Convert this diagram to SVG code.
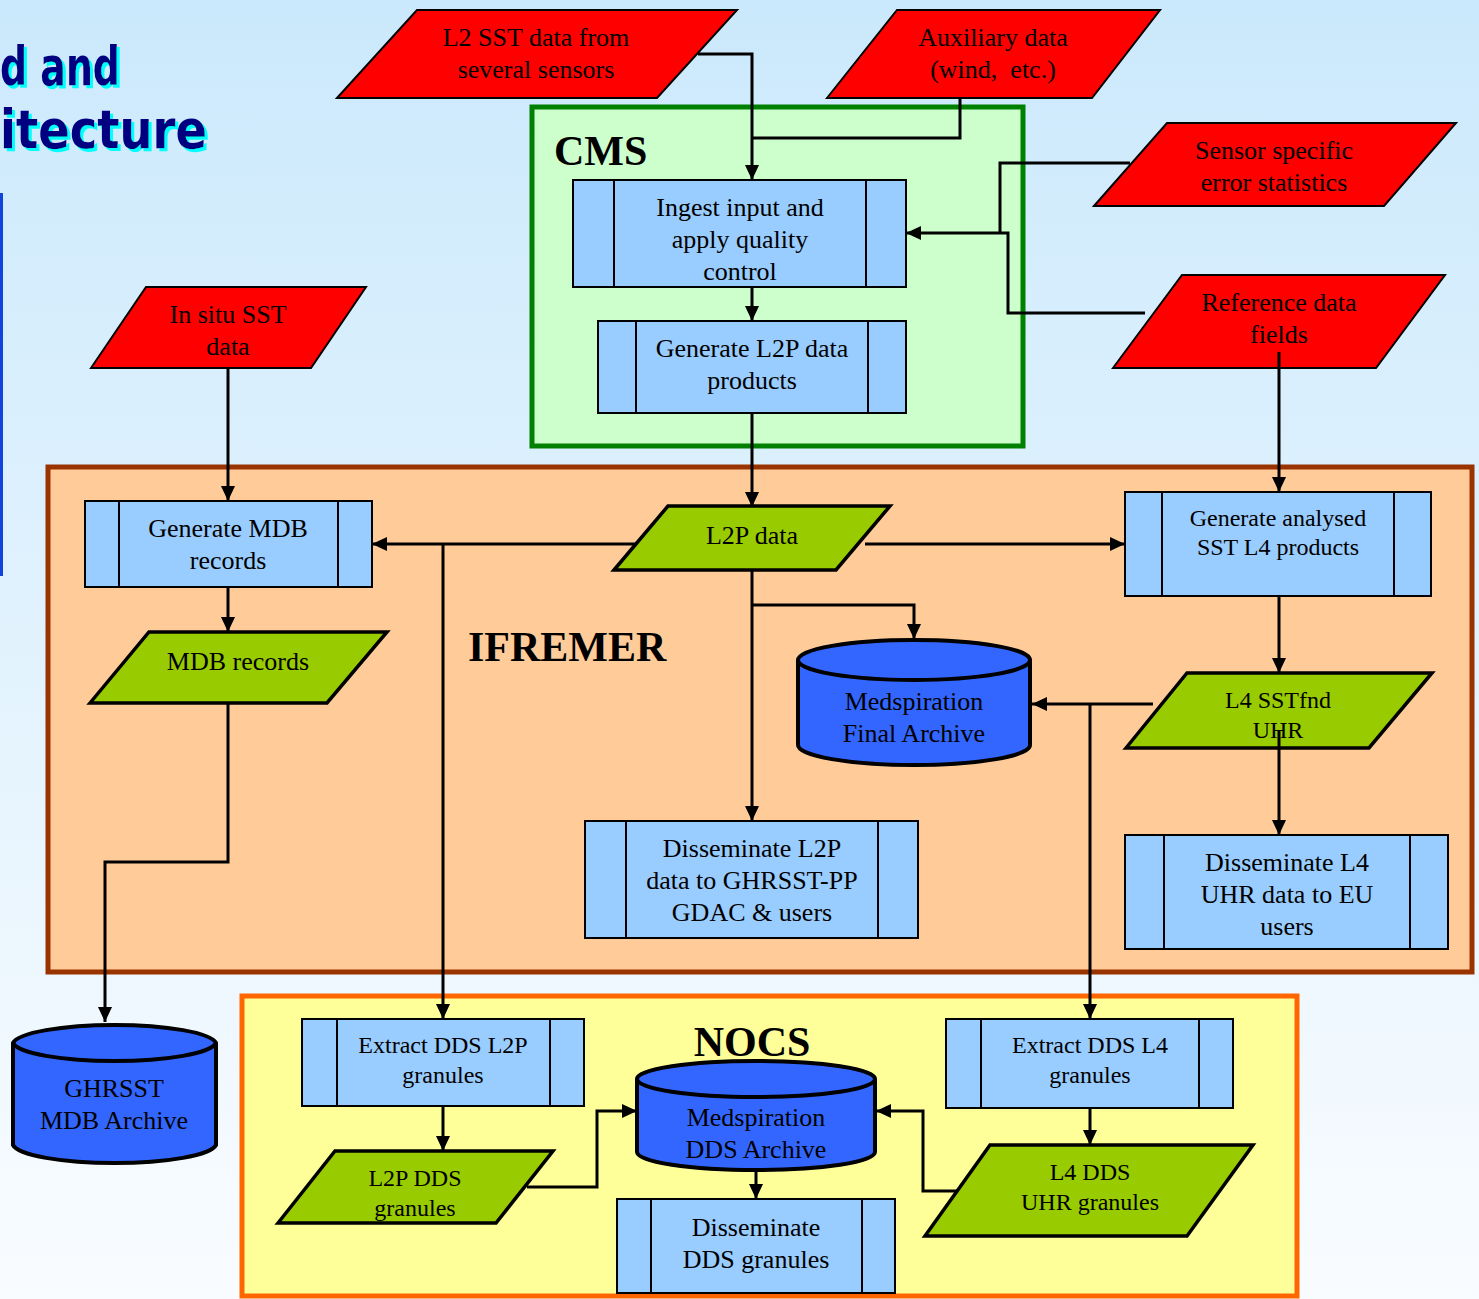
<svg xmlns="http://www.w3.org/2000/svg" width="1479" height="1299" viewBox="0 0 1479 1299">
<defs>
<linearGradient id="bg" x1="0" y1="0" x2="0" y2="1">
<stop offset="0" stop-color="#cbe9fc"/>
<stop offset="1" stop-color="#f9fcff"/>
</linearGradient>
<marker id="arr" markerUnits="userSpaceOnUse" markerWidth="16" markerHeight="16" refX="15" refY="7" orient="auto" viewBox="0 0 16 14">
<path d="M0,0 L15,7 L0,14 z" fill="#000"/>
</marker>
<filter id="sh" x="-5%" y="-20%" width="115%" height="150%">
<feFlood flood-color="#00ffff" result="f"/>
<feComposite in="f" in2="SourceAlpha" operator="in" result="c"/>
<feOffset in="c" dx="3" dy="3" result="o"/>
<feMerge><feMergeNode in="o"/><feMergeNode in="SourceGraphic"/></feMerge>
</filter>
</defs>
<style>
.t{font-family:"Liberation Serif","Times New Roman",serif;font-size:26px;fill:#000;text-anchor:middle}
.s{font-size:24px}
.h{font-family:"Liberation Serif","Times New Roman",serif;font-size:42px;font-weight:bold;fill:#000}
.red{fill:#ff0000;stroke:#000;stroke-width:2}
.grn{fill:#99cc00;stroke:#000;stroke-width:3.5}
.proc{fill:#99ccff;stroke:#000;stroke-width:2}
.pl{fill:none;stroke:#000;stroke-width:2}
.cyl{fill:#3366ff;stroke:#000;stroke-width:4}
.c{fill:none;stroke:#000;stroke-width:3}
.ttl{font-family:"DejaVu Sans",sans-serif;font-weight:bold;font-size:54px;fill:#000080}
</style>
<rect x="0" y="0" width="1479" height="1299" fill="url(#bg)"/>
<g id="title" filter="url(#sh)">
<text class="ttl" x="0" y="85" textLength="120" lengthAdjust="spacingAndGlyphs">d and</text>
<text class="ttl" x="0" y="148" textLength="207" lengthAdjust="spacingAndGlyphs">itecture</text>
</g>
<rect x="0" y="193" width="3" height="383" fill="#1144dd"/>
<g id="cms">
<rect x="532" y="107" width="491" height="339" fill="#ccffcc" stroke="#008000" stroke-width="5"/>
<text class="h" x="554" y="165">CMS</text>
</g>
<g id="ifremer">
<rect x="48" y="467" width="1424" height="505" fill="#ffcc99" stroke="#993300" stroke-width="5"/>
<text class="h" x="468" y="661">IFREMER</text>
</g>
<g id="nocs">
<rect x="242" y="996" width="1055" height="300" fill="#ffff99" stroke="#ff6600" stroke-width="5"/>
<text class="h" x="752" y="1056" text-anchor="middle">NOCS</text>
</g>
<g id="connectors">
<polyline class="c" points="698,54 752,54 752,180" marker-end="url(#arr)"/>
<polyline class="c" points="960,98 960,138 752,138"/>
<polyline class="c" points="1130,163 1000,163 1000,233"/>
<polyline class="c" points="1145,313 1008,313 1008,233 906,233" marker-end="url(#arr)"/>
<line class="c" x1="752" y1="287" x2="752" y2="321" marker-end="url(#arr)"/>
<line class="c" x1="752" y1="413" x2="752" y2="507" marker-end="url(#arr)"/>
<line class="c" x1="636" y1="544" x2="372" y2="544" marker-end="url(#arr)"/>
<line class="c" x1="865" y1="544" x2="1125" y2="544" marker-end="url(#arr)"/>
<line class="c" x1="443" y1="544" x2="443" y2="1019" marker-end="url(#arr)"/>
<line class="c" x1="752" y1="570" x2="752" y2="821" marker-end="url(#arr)"/>
<polyline class="c" points="752,605 914,605 914,639" marker-end="url(#arr)"/>
<line class="c" x1="228" y1="368" x2="228" y2="501" marker-end="url(#arr)"/>
<line class="c" x1="228" y1="587" x2="228" y2="632" marker-end="url(#arr)"/>
<polyline class="c" points="228,703 228,862 105,862 105,1022" marker-end="url(#arr)"/>
<line class="c" x1="1279" y1="352" x2="1279" y2="492" marker-end="url(#arr)"/>
<line class="c" x1="1279" y1="596" x2="1279" y2="673" marker-end="url(#arr)"/>
<line class="c" x1="1279" y1="738" x2="1279" y2="835" marker-end="url(#arr)"/>
<line class="c" x1="1153" y1="704" x2="1032" y2="704" marker-end="url(#arr)"/>
<line class="c" x1="1090" y1="704" x2="1090" y2="1019" marker-end="url(#arr)"/>
<line class="c" x1="443" y1="1106" x2="443" y2="1151" marker-end="url(#arr)"/>
<polyline class="c" points="527,1187 597,1187 597,1111 637,1111" marker-end="url(#arr)"/>
<line class="c" x1="756" y1="1170" x2="756" y2="1199" marker-end="url(#arr)"/>
<line class="c" x1="1090" y1="1108" x2="1090" y2="1145" marker-end="url(#arr)"/>
<polyline class="c" points="958,1191 923,1191 923,1111 876,1111" marker-end="url(#arr)"/>
</g>
<g id="l2sst">
<polygon class="red" points="337,98 417,10 737,10 657,98"/>
<text class="t" x="536" y="46">L2 SST data from</text>
<text class="t" x="536" y="78">several sensors</text>
</g>
<g id="aux">
<polygon class="red" points="827,98 897,10 1160,10 1092,98"/>
<text class="t" x="993" y="46">Auxiliary data</text>
<text class="t" x="993" y="78" style="white-space:pre">(wind,  etc.)</text>
</g>
<g id="sensor">
<polygon class="red" points="1094,206 1167,123 1456,123 1384,206"/>
<text class="t" x="1274" y="159">Sensor specific</text>
<text class="t" x="1274" y="191">error statistics</text>
</g>
<g id="reference">
<polygon class="red" points="1113,368 1182,275 1445,275 1376,368"/>
<text class="t" x="1279" y="311">Reference data</text>
<text class="t" x="1279" y="343">fields</text>
</g>
<g id="insitu">
<polygon class="red" points="91,368 146,287 366,287 311,368"/>
<text class="t" x="228" y="323">In situ SST</text>
<text class="t" x="228" y="355">data</text>
</g>
<line class="c" x1="1279" y1="352" x2="1279" y2="368"/>
<g id="ingest">
<rect class="proc" x="573" y="180" width="333" height="107"/>
<line class="pl" x1="614" y1="180" x2="614" y2="287"/>
<line class="pl" x1="866" y1="180" x2="866" y2="287"/>
<text class="t" x="740" y="216">Ingest input and</text>
<text class="t" x="740" y="248">apply quality</text>
<text class="t" x="740" y="280">control</text>
</g>
<g id="genl2p">
<rect class="proc" x="598" y="321" width="308" height="92"/>
<line class="pl" x1="636" y1="321" x2="636" y2="413"/>
<line class="pl" x1="868" y1="321" x2="868" y2="413"/>
<text class="t" x="752" y="357">Generate L2P data</text>
<text class="t" x="752" y="389">products</text>
</g>
<g id="genmdb">
<rect class="proc" x="85" y="501" width="287" height="86"/>
<line class="pl" x1="119" y1="501" x2="119" y2="587"/>
<line class="pl" x1="338" y1="501" x2="338" y2="587"/>
<text class="t" x="228" y="537">Generate MDB</text>
<text class="t" x="228" y="569">records</text>
</g>
<g id="l2pdata">
<polygon class="grn" points="614,570 668,506 890,506 836,570"/>
<text class="t" x="752" y="544">L2P data</text>
</g>
<g id="genl4">
<rect class="proc" x="1125" y="492" width="306" height="104"/>
<line class="pl" x1="1162" y1="492" x2="1162" y2="596"/>
<line class="pl" x1="1394" y1="492" x2="1394" y2="596"/>
<text class="t s" x="1278" y="526">Generate analysed</text>
<text class="t s" x="1278" y="555">SST L4 products</text>
</g>
<g id="mdbrecords">
<polygon class="grn" points="90,703 149,632 387,632 327,703"/>
<text class="t" x="238" y="670">MDB records</text>
</g>
<g id="finalarchive">
<path class="cyl" d="M798,660 L798,745 A116,20 0 0 0 1030,745 L1030,660 A116,20 0 0 0 798,660 Z"/>
<path class="cyl" d="M798,660 A116,20 0 0 0 1030,660"/>
<text class="t" x="914" y="710">Medspiration</text>
<text class="t" x="914" y="742">Final Archive</text>
</g>
<g id="l4sst">
<polygon class="grn" points="1126,748 1187,673 1432,673 1369,748"/>
<text class="t s" x="1278" y="708">L4 SSTfnd</text>
<text class="t s" x="1278" y="738">UHR</text>
</g>
<line class="c" x1="1279" y1="730" x2="1279" y2="748"/>
<g id="disl2p">
<rect class="proc" x="585" y="821" width="333" height="117"/>
<line class="pl" x1="626" y1="821" x2="626" y2="938"/>
<line class="pl" x1="878" y1="821" x2="878" y2="938"/>
<text class="t" x="752" y="857">Disseminate L2P</text>
<text class="t" x="752" y="889">data to GHRSST-PP</text>
<text class="t" x="752" y="921">GDAC &amp; users</text>
</g>
<g id="disl4">
<rect class="proc" x="1125" y="835" width="323" height="114"/>
<line class="pl" x1="1164" y1="835" x2="1164" y2="949"/>
<line class="pl" x1="1410" y1="835" x2="1410" y2="949"/>
<text class="t" x="1287" y="871">Disseminate L4</text>
<text class="t" x="1287" y="903">UHR data to EU</text>
<text class="t" x="1287" y="935">users</text>
</g>
<g id="ghrsst">
<path class="cyl" d="M13,1043 L13,1145 A102,20 0 0 0 216,1145 L216,1043 A102,20 0 0 0 13,1043 Z"/>
<path class="cyl" d="M13,1043 A102,20 0 0 0 216,1043"/>
<text class="t" x="114" y="1097">GHRSST</text>
<text class="t" x="114" y="1129">MDB Archive</text>
</g>
<g id="extl2p">
<rect class="proc" x="302" y="1019" width="282" height="87"/>
<line class="pl" x1="337" y1="1019" x2="337" y2="1106"/>
<line class="pl" x1="550" y1="1019" x2="550" y2="1106"/>
<text class="t s" x="443" y="1053">Extract DDS L2P</text>
<text class="t s" x="443" y="1083">granules</text>
</g>
<g id="l2pdds">
<polygon class="grn" points="278,1223 335,1151 553,1151 496,1223"/>
<text class="t s" x="415" y="1186">L2P DDS</text>
<text class="t s" x="415" y="1216">granules</text>
</g>
<g id="ddsarchive">
<path class="cyl" d="M637,1079 L637,1152 A119,18 0 0 0 875,1152 L875,1079 A119,18 0 0 0 637,1079 Z"/>
<path class="cyl" d="M637,1079 A119,18 0 0 0 875,1079"/>
<text class="t" x="756" y="1126">Medspiration</text>
<text class="t" x="756" y="1158">DDS Archive</text>
</g>
<g id="disdds">
<rect class="proc" x="617" y="1199" width="278" height="94"/>
<line class="pl" x1="651" y1="1199" x2="651" y2="1293"/>
<line class="pl" x1="862" y1="1199" x2="862" y2="1293"/>
<text class="t" x="756" y="1236">Disseminate</text>
<text class="t" x="756" y="1268">DDS granules</text>
</g>
<g id="extl4">
<rect class="proc" x="946" y="1019" width="287" height="89"/>
<line class="pl" x1="981" y1="1019" x2="981" y2="1108"/>
<line class="pl" x1="1199" y1="1019" x2="1199" y2="1108"/>
<text class="t s" x="1090" y="1053">Extract DDS L4</text>
<text class="t s" x="1090" y="1083">granules</text>
</g>
<g id="l4dds">
<polygon class="grn" points="925,1236 990,1145 1253,1145 1187,1236"/>
<text class="t s" x="1090" y="1180">L4 DDS</text>
<text class="t s" x="1090" y="1210">UHR granules</text>
</g>
</svg>
